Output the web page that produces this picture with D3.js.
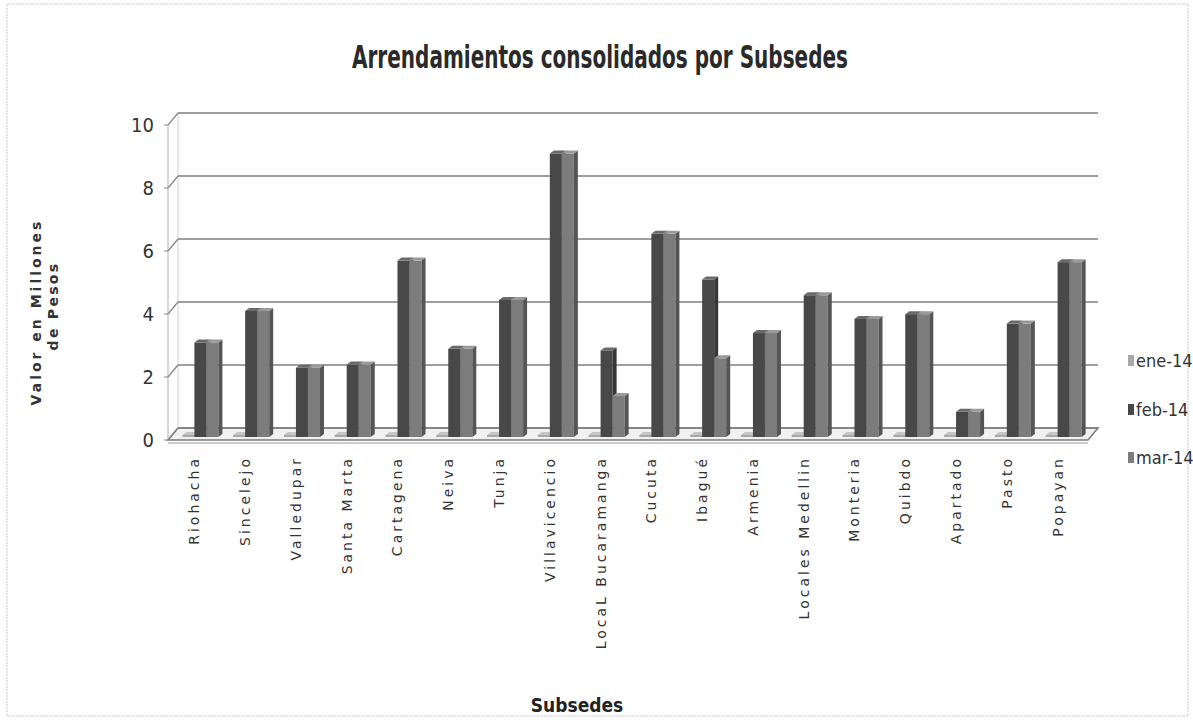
<!DOCTYPE html>
<html>
<head>
<meta charset="utf-8">
<script src="https://cdn.jsdelivr.net/npm/d3@7"></script>
<style>
  body { margin: 0; background: #fff; }
  svg { display: block; }
</style>
</head>
<body>
<div id="chart"></div>
<script>
// data
const categories = ["Riohacha", "Sincelejo", "Valledupar", "Santa Marta", "Cartagena", "Neiva", "Tunja",
  "Villavicencio", "LocaL Bucaramanga", "Cucuta", "Ibagué", "Armenia", "Locales Medellin", "Monteria",
  "Quibdo", "Apartado", "Pasto", "Popayan"];
const seriesNames = ["ene-14", "feb-14", "mar-14"];
const ene14 = [0, 0, 0, 0, 0, 0, 0, 0, 0, 0, 0, 0, 0, 0, 0, 0, 0, 0];
const feb14 = [3.0, 4.0, 2.2, 2.3, 5.6, 2.8, 4.35, 9.0, 2.75, 6.45, 5.0, 3.3, 4.5, 3.75, 3.9, 0.8, 3.6, 5.55];
const mar14 = [3.0, 4.0, 2.2, 2.3, 5.6, 2.8, 4.35, 9.0, 1.3, 6.45, 2.5, 3.3, 4.5, 3.75, 3.9, 0.8, 3.6, 5.55];
const yTicks = [0, 2, 4, 6, 8, 10];

const W = 1193, H = 723;
const narrow = '"Liberation Sans Narrow","DejaVu Sans Condensed",sans-serif';
const wide = '"DejaVu Sans",Verdana,sans-serif';

const svg = d3.select("#chart").append("svg")
    .attr("width", W)
    .attr("height", H);

// page frame (scan edge)
svg.append("rect")
    .attr("x", 7).attr("y", 4)
    .attr("width", 1181).attr("height", 712)
    .attr("fill", "none")
    .attr("stroke", "#c8c8c8")
    .attr("stroke-dasharray", "2,1");

const y = d3.scaleLinear().domain([0, 10]).range([440, 125]);
const x = d3.scaleBand().domain(categories).range([175, 1089]).paddingInner(0.29).paddingOuter(0.145);
const xs = d3.scaleBand().domain(seriesNames).range([0, x.bandwidth()]);

// 3d offsets
const wall = {dx: 10, dy: -12};
const bar = {dx: 4, dy: -3};
const baseY = 437;
const left = 168, right = 1088;

const grid = svg.append("g");

// floor
grid.append("polygon")
    .attr("points", [[left, 440], [right, 440], [right + wall.dx, 440 + wall.dy], [left + wall.dx, 440 + wall.dy]].join(" "))
    .attr("fill", "#f1f1f1")
    .attr("stroke", "#7a7a7a")
    .attr("stroke-width", 1.5);
grid.append("line")
    .attr("x1", left).attr("x2", right)
    .attr("y1", 443).attr("y2", 443)
    .attr("stroke", "#999").attr("stroke-width", 1.2);

// walls
grid.append("line")
    .attr("x1", left).attr("x2", left)
    .attr("y1", y(10)).attr("y2", y(0))
    .attr("stroke", "#b0b0b0");
grid.append("line")
    .attr("x1", left + wall.dx).attr("x2", left + wall.dx)
    .attr("y1", y(10) + wall.dy).attr("y2", y(0) + wall.dy)
    .attr("stroke", "#d0d0d0");

yTicks.forEach(t => {
    grid.append("line")
        .attr("x1", left + wall.dx).attr("x2", right + wall.dx)
        .attr("y1", y(t) + wall.dy).attr("y2", y(t) + wall.dy)
        .attr("stroke", "#7f7f7f")
        .attr("stroke-width", 1.7);
    grid.append("line")
        .attr("x1", left).attr("x2", left + wall.dx)
        .attr("y1", y(t)).attr("y2", y(t) + wall.dy)
        .attr("stroke", "#858585")
        .attr("stroke-width", 1.2);
    grid.append("line")
        .attr("x1", left - 4).attr("x2", left)
        .attr("y1", y(t)).attr("y2", y(t))
        .attr("stroke", "#858585");
    grid.append("text")
        .attr("x", 154)
        .attr("y", y(t) + 7)
        .attr("text-anchor", "end")
        .attr("font-family", narrow)
        .attr("font-size", 20)
        .attr("fill", "#333")
        .text(t);
});

const colors = {
    "ene-14": {front: "#a9a9a9", side: "#8d8d8d", top: "#c6c6c6"},
    "feb-14": {front: "#484848", side: "#363636", top: "#6a6a6a"},
    "mar-14": {front: "#7c7c7c", side: "#555555", top: "#9a9a9a"}
};
const values = {"ene-14": ene14, "feb-14": feb14, "mar-14": mar14};

const bars = svg.append("g");
categories.forEach((c, i) => {
    seriesNames.forEach(s => {
        const v = values[s][i];
        const x0 = x(c) + xs(s);
        const w = xs.bandwidth();
        const yt = v > 0 ? y(v) - 3 : baseY - 2;
        const col = colors[s];
        const g = bars.append("g");
        g.append("rect")
            .attr("x", x0).attr("y", yt)
            .attr("width", w).attr("height", baseY - yt)
            .attr("fill", col.front);
        g.append("polygon")
            .attr("points", [[x0 + w, baseY], [x0 + w, yt], [x0 + w + bar.dx, yt + bar.dy], [x0 + w + bar.dx, baseY + bar.dy]].join(" "))
            .attr("fill", col.side);
        g.append("polygon")
            .attr("points", [[x0, yt], [x0 + w, yt], [x0 + w + bar.dx, yt + bar.dy], [x0 + bar.dx, yt + bar.dy]].join(" "))
            .attr("fill", col.top);
    });
});

// category labels
svg.append("g").selectAll("text")
    .data(categories)
    .join("text")
    .attr("transform", d => `translate(${x(d) + x.bandwidth() / 2 - 6},456) rotate(-90)`)
    .attr("text-anchor", "end")
    .attr("dy", "0.35em")
    .attr("font-family", wide)
    .attr("font-size", 14)
    .attr("letter-spacing", 3)
    .attr("fill", "#333")
    .text(d => d);

// title
svg.append("text")
    .attr("x", 600).attr("y", 68)
    .attr("text-anchor", "middle")
    .attr("font-family", narrow)
    .attr("font-weight", "bold")
    .attr("font-size", 32)
    .attr("textLength", 496)
    .attr("lengthAdjust", "spacingAndGlyphs")
    .attr("fill", "#2a2a2a")
    .text("Arrendamientos consolidados por Subsedes");

// axis titles
const yt = svg.append("g").attr("transform", "translate(0,312) rotate(-90)");
yt.append("text")
    .attr("x", 0).attr("y", 41)
    .attr("text-anchor", "middle")
    .attr("font-family", wide)
    .attr("font-weight", "bold")
    .attr("font-size", 14)
    .attr("letter-spacing", 3)
    .attr("fill", "#333")
    .text("Valor en Millones");
yt.append("text")
    .attr("x", 6).attr("y", 58)
    .attr("text-anchor", "middle")
    .attr("font-family", wide)
    .attr("font-weight", "bold")
    .attr("font-size", 14)
    .attr("letter-spacing", 2.3)
    .attr("fill", "#333")
    .text("de Pesos");

svg.append("text")
    .attr("x", 577).attr("y", 712)
    .attr("text-anchor", "middle")
    .attr("font-family", narrow)
    .attr("font-weight", "bold")
    .attr("font-size", 19)
    .attr("fill", "#222")
    .text("Subsedes");

// legend
const legend = svg.append("g");
const legendY = [361, 410, 458];
seriesNames.forEach((s, i) => {
    legend.append("rect")
        .attr("x", 1128).attr("y", legendY[i] - 6)
        .attr("width", 6).attr("height", 11)
        .attr("fill", colors[s].front);
    legend.append("text")
        .attr("x", 1136).attr("y", legendY[i] + 6)
        .attr("font-family", narrow)
        .attr("font-size", 18)
        .attr("fill", "#333")
        .text(s);
});
</script>
</body>
</html>
